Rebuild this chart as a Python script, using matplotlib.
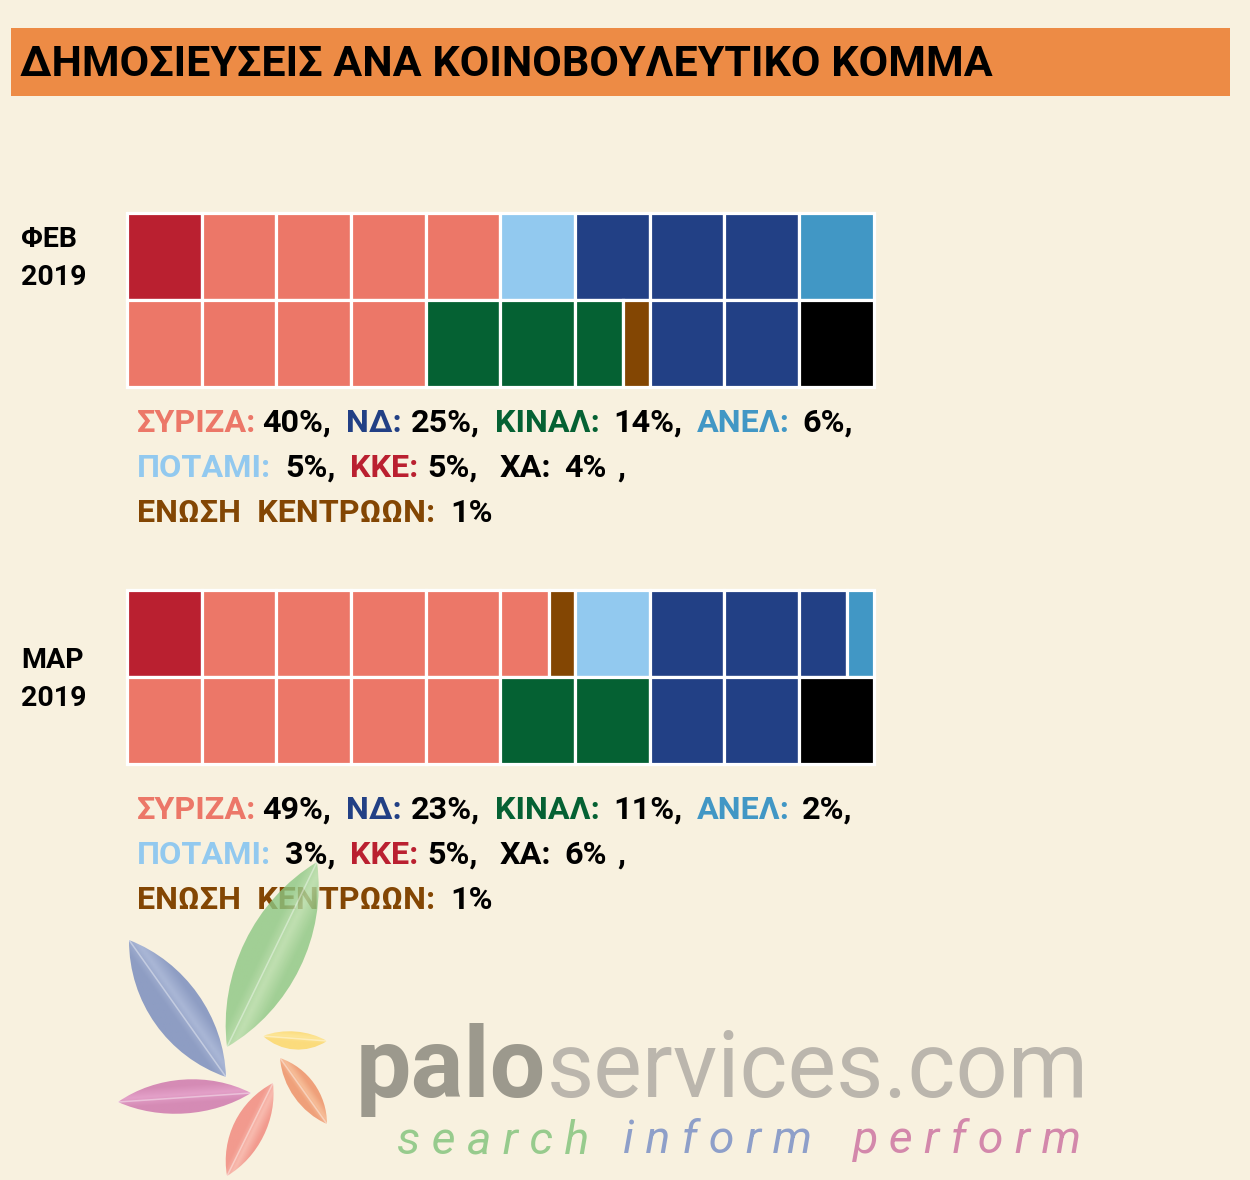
import numpy as np
import matplotlib
matplotlib.use("Agg")
import matplotlib.pyplot as plt
from matplotlib.patches import PathPatch, Rectangle
from matplotlib.path import Path
from matplotlib.colors import LinearSegmentedColormap

BG = "#F8F1DF"
FONT = "Roboto"

colors = {
    "ΣΥΡΙΖΑ": "#EC7768",
    "ΝΔ": "#224085",
    "ΚΙΝΑΛ": "#056133",
    "ΑΝΕΛ": "#4197C5",
    "ΠΟΤΑΜΙ": "#92C9EF",
    "ΚΚΕ": "#BA2030",
    "ΧΑ": "#000000",
    "ΕΝΩΣΗ  ΚΕΝΤΡΩΩΝ": "#834603",
}

# waffle rows, one cell = 5%
feb_top = ["ΚΚΕ", "ΣΥΡΙΖΑ", "ΣΥΡΙΖΑ", "ΣΥΡΙΖΑ", "ΣΥΡΙΖΑ", "ΠΟΤΑΜΙ", "ΝΔ", "ΝΔ", "ΝΔ", "ΑΝΕΛ"]
feb_top_w = [1, 1, 1, 1, 1, 1, 1, 1, 1, 1]
feb_bottom = ["ΣΥΡΙΖΑ", "ΣΥΡΙΖΑ", "ΣΥΡΙΖΑ", "ΣΥΡΙΖΑ", "ΚΙΝΑΛ", "ΚΙΝΑΛ", "ΚΙΝΑΛ", "ΕΝΩΣΗ  ΚΕΝΤΡΩΩΝ", "ΝΔ", "ΝΔ", "ΧΑ"]
feb_bottom_w = [1, 1, 1, 1, 1, 1, 0.65, 0.35, 1, 1, 1]

mar_top = ["ΚΚΕ", "ΣΥΡΙΖΑ", "ΣΥΡΙΖΑ", "ΣΥΡΙΖΑ", "ΣΥΡΙΖΑ", "ΣΥΡΙΖΑ", "ΕΝΩΣΗ  ΚΕΝΤΡΩΩΝ", "ΠΟΤΑΜΙ", "ΝΔ", "ΝΔ", "ΝΔ", "ΑΝΕΛ"]
mar_top_w = [1, 1, 1, 1, 1, 0.65, 0.35, 1, 1, 1, 0.65, 0.35]
mar_bottom = ["ΣΥΡΙΖΑ", "ΣΥΡΙΖΑ", "ΣΥΡΙΖΑ", "ΣΥΡΙΖΑ", "ΣΥΡΙΖΑ", "ΚΙΝΑΛ", "ΚΙΝΑΛ", "ΝΔ", "ΝΔ", "ΧΑ"]
mar_bottom_w = [1, 1, 1, 1, 1, 1, 1, 1, 1, 1]

# caption values, %
feb_pct = {"ΣΥΡΙΖΑ": 40, "ΝΔ": 25, "ΚΙΝΑΛ": 14, "ΑΝΕΛ": 6, "ΠΟΤΑΜΙ": 5, "ΚΚΕ": 5, "ΧΑ": 4, "ΕΝΩΣΗ  ΚΕΝΤΡΩΩΝ": 1}
mar_pct = {"ΣΥΡΙΖΑ": 49, "ΝΔ": 23, "ΚΙΝΑΛ": 11, "ΑΝΕΛ": 2, "ΠΟΤΑΜΙ": 3, "ΚΚΕ": 5, "ΧΑ": 6, "ΕΝΩΣΗ  ΚΕΝΤΡΩΩΝ": 1}

# where each word of the caption starts: party, x of name, x of value
caption_lines = [
    [("ΣΥΡΙΖΑ", 137, 262), ("ΝΔ", 346, 411), ("ΚΙΝΑΛ", 495, 613), ("ΑΝΕΛ", 697, 802)],
    [("ΠΟΤΑΜΙ", 137, 285), ("ΚΚΕ", 350, 427), ("ΧΑ", 500, 564)],
    [("ΕΝΩΣΗ  ΚΕΝΤΡΩΩΝ", 137, 450)],
]

W, H = 1250, 1180
fig = plt.figure(figsize=(W / 100, H / 100), dpi=100, facecolor=BG)
page = fig.add_axes([0, 0, 1, 1], zorder=1)
page.set_xlim(0, W)
page.set_ylim(H, 0)
page.axis("off")
page.patch.set_alpha(0)

page.add_patch(Rectangle((11, 28), 1219, 68, color="#ED8B45", lw=0))
page.text(20, 65, "ΔΗΜΟΣΙΕΥΣΕΙΣ ΑΝΑ ΚΟΙΝΟΒΟΥΛΕΥΤΙΚΟ ΚΟΜΜΑ", family=FONT, fontweight="bold",
          fontsize=31, color="black", va="center")


def draw_waffle(top, top_w, bottom, bottom_w, y0, y1):
    ax = fig.add_axes([127 / W, 1 - y1 / H, 746.5 / W, (y1 - y0) / H], zorder=0)
    ax.set_xlim(0, 10)
    ax.set_ylim(0, 2)
    ax.axis("off")
    for row, names, widths in [(1.5, top, top_w), (0.5, bottom, bottom_w)]:
        lefts = np.cumsum([0] + widths[:-1])
        bars = ax.barh([row] * len(names), widths, left=lefts, height=1,
                       color=[colors[n] for n in names], edgecolor="white", linewidth=2.3)
        for b in bars:
            b.set_clip_on(False)


def draw_caption(pct, ys):
    for line, y in zip(caption_lines, ys):
        for party, x_name, x_val in line:
            page.text(x_name, y, party + ":", family=FONT, fontweight="bold", fontsize=23.3,
                      color=colors[party], va="center")
            end = "," if party in ("ΣΥΡΙΖΑ", "ΝΔ", "ΚΙΝΑΛ", "ΑΝΕΛ", "ΠΟΤΑΜΙ", "ΚΚΕ") else ""
            page.text(x_val, y, f"{pct[party]}%{end}", family=FONT, fontweight="bold", fontsize=23.3,
                      color="black", va="center")
    page.text(617, ys[1], ",", family=FONT, fontweight="bold", fontsize=23.3, color="black", va="center")


draw_waffle(feb_top, feb_top_w, feb_bottom, feb_bottom_w, 212.5, 386.5)
draw_waffle(mar_top, mar_top_w, mar_bottom, mar_bottom_w, 589.5, 763.5)
draw_caption(feb_pct, [423, 468, 513])
draw_caption(mar_pct, [810, 855, 900])

page.text(21, 258.5, "ΦΕΒ\n2019", family=FONT, fontweight="bold", fontsize=20.5, va="center", linespacing=1.5)
page.text(21, 679.5, "ΜΑΡ\n2019", family=FONT, fontweight="bold", fontsize=20.5, va="center", linespacing=1.5)

# logo leaves: tip, base, bulge on each side, dark and light shade
leaves = [
    ((317, 862), (227, 1047), 30, 31, "#8CC783", "#B3DCA6", 0.8),
    ((129, 940), (226, 1077), 27, 25, "#8E9DC3", "#AAB7D6", 1.0),
    ((263, 1036), (327, 1041), 11, 7, "#FBDB7C", "#FDE596", 1.0),
    ((280, 1058), (327, 1124), 11, 13, "#EFA07A", "#F6BD98", 1.0),
    ((118, 1102), (251, 1093), 16, 18, "#D58BB5", "#E3A0C8", 1.0),
    ((273, 1083), (227, 1176), 17, 15, "#F29A8E", "#F8BBAF", 1.0),
]
for tip, base, side_a, side_b, dark, light, alpha in leaves:
    p0, p1 = np.array(tip, float), np.array(base, float)
    d = p1 - p0
    n = np.array([-d[1], d[0]]) / np.hypot(*d)
    ca1 = p0 + 0.3 * d + n * side_a * 1.33
    ca2 = p0 + 0.7 * d + n * side_a * 1.33
    cb1 = p0 + 0.7 * d - n * side_b * 1.33
    cb2 = p0 + 0.3 * d - n * side_b * 1.33
    path = Path([p0, ca1, ca2, p1, cb1, cb2, p0],
                [Path.MOVETO, Path.CURVE4, Path.CURVE4, Path.CURVE4, Path.CURVE4, Path.CURVE4, Path.CURVE4])
    xs, ys = [p0[0], p1[0]], [p0[1], p1[1]]
    pad = max(side_a, side_b) * 1.6
    ext = [min(xs) - pad, max(xs) + pad, max(ys) + pad, min(ys) - pad]
    gx, gy = np.meshgrid(np.linspace(ext[0], ext[1], 80), np.linspace(ext[3], ext[2], 80))
    g = np.abs(((gx - p0[0]) * n[0] + (gy - p0[1]) * n[1]) + side_a * 0.2) / max(side_a, side_b)
    cmap = LinearSegmentedColormap.from_list("leaf", [light, dark])
    im = page.imshow(np.clip(g, 0, 1), extent=ext, cmap=cmap, vmin=0, vmax=0.5, alpha=alpha,
                     aspect="auto", zorder=5, interpolation="bilinear")
    im.set_clip_path(PathPatch(path, transform=page.transData))
    # midrib
    page.plot(xs, ys, color="white", alpha=0.4, lw=1.1, zorder=6, solid_capstyle="butt")
page.set_xlim(0, W)
page.set_ylim(H, 0)

# logo text
page.text(356, 1097, "palo", family=FONT, fontweight="bold", fontsize=71, color="#9C998D", va="baseline")
page.text(547, 1097, "services.com", family=FONT, fontsize=66, color="#BBB6AD", va="baseline")
tag_style = dict(family=FONT, style="italic", fontsize=33.5, va="baseline")
page.text(397, 1153, "s e a r c h", color="#97CB8D", **tag_style)
page.text(623, 1153, "i n f o r m", color="#8E9FC9", **tag_style)
page.text(853, 1153, "p e r f o r m", color="#D388AB", **tag_style)

fig.savefig("out.png", dpi=100, facecolor=BG)
